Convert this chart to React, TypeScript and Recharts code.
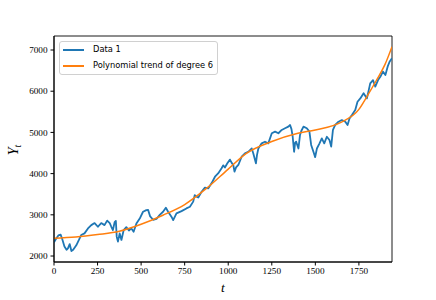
import { Label, Line, LineChart, ReferenceArea, XAxis, YAxis } from "recharts";

const dataT = [
  0, 12, 25, 38, 48, 60, 72, 80, 90, 100, 110, 128, 143, 156, 175, 195, 214, 233, 252, 271, 290, 305, 320, 329, 338, 348,
  355, 360, 367, 377, 387, 400, 415, 430, 444, 457, 473, 492, 511, 530, 540, 552, 569, 588, 607, 626, 642, 655, 674, 684,
  703, 732, 760, 780, 799, 808, 818, 828, 847, 866, 885, 904, 924, 942, 962, 971, 981, 995, 1010, 1020, 1029, 1036, 1045,
  1058, 1077, 1096, 1115, 1135, 1144, 1159, 1165, 1173, 1192, 1211, 1230, 1250, 1269, 1288, 1307, 1326, 1345, 1355, 1363,
  1370, 1378, 1384, 1390, 1403, 1412, 1420, 1432, 1451, 1466, 1476, 1489, 1499, 1509, 1524, 1537, 1551, 1566, 1581, 1591,
  1601, 1614, 1633, 1652, 1672, 1685, 1696, 1710, 1729, 1742, 1758, 1777, 1796, 1815, 1831, 1844, 1860, 1873, 1888, 1902,
  1915, 1926, 1940,
];
const dataY = [
  2330, 2420, 2500, 2520, 2400, 2230, 2150, 2185, 2290, 2120, 2150, 2260, 2390, 2510, 2550, 2670, 2750, 2800, 2710, 2800,
  2750, 2860, 2800, 2710, 2630, 2820, 2850, 2470, 2350, 2550, 2390, 2630, 2700, 2620, 2670, 2590, 2790, 2910, 3075, 3115,
  3120, 2960, 2880, 2900, 3000, 3075, 3170, 3075, 2955, 2870, 3035, 3090, 3155, 3195, 3320, 3480, 3440, 3420, 3560, 3660,
  3640, 3765, 3925, 4005, 4130, 4200, 4150, 4250, 4340, 4260, 4210, 4050, 4150, 4210, 4410, 4490, 4530, 4610, 4490, 4250,
  4450, 4610, 4735, 4775, 4735, 4980, 5020, 4980, 5060, 5100, 5140, 5180, 5080, 4895, 4530, 4750, 4775, 4610, 4935, 5040,
  5140, 5100, 5020, 4695, 4530, 4400, 4610, 4735, 4855, 4735, 4895, 4815, 4655, 5060, 5180, 5260, 5300, 5260, 5180, 5340,
  5420, 5545, 5745, 5825, 5950, 5825, 6190, 6270, 6110, 6270, 6350, 6475, 6395, 6595, 6715, 6800,
];

// degree 6 trend
const trendT = [0, 125, 250, 375, 500, 625, 750, 875, 1000, 1100, 1250, 1400, 1500, 1650, 1750, 1800, 1850, 1900, 1940];
const trendY = [2430, 2460, 2520, 2600, 2770, 2990, 3250, 3640, 4110, 4480, 4780, 4980, 5060, 5250, 5560, 5900, 6260, 6650, 7080];

const xTicks = [0, 250, 500, 750, 1000, 1250, 1500, 1750];
const yTicks = [2000, 3000, 4000, 5000, 6000, 7000];
const seriesNames = ["Data 1", "Polynomial trend of degree 6"];
const colors = ["#1f77b4", "#ff7f0e"];

const X_MAX = 1940;
const Y_MIN = 1855;
const Y_MAX = 7340;

const dataRows = dataT.map((t, i) => ({ t, value: dataY[i] }));
const trendRows = trendT.map((t, i) => ({ t, trend: trendY[i] }));

const tickStyle = { fill: "#000", fontSize: 9.2, fontFamily: "Liberation Serif" };

export default function App() {
  return (
    <div style={{ position: "absolute", left: 0, top: 0, width: 436, height: 300, background: "#fff" }}>
      <LineChart width={436} height={300} margin={{ top: 36, right: 44, bottom: 0, left: 0 }}>
        <XAxis
          dataKey="t"
          type="number"
          domain={[0, X_MAX]}
          allowDataOverflow
          ticks={xTicks}
          height={38}
          tick={tickStyle}
          tickSize={3.5}
          tickMargin={2}
          tickLine={{ stroke: "#000" }}
          axisLine={{ stroke: "#000" }}
        >
          <Label
            content={() => (
              <text x={223} y={292} textAnchor="middle" fontFamily="Liberation Serif" fontStyle="italic" fontSize={13.5}>
                t
              </text>
            )}
          />
        </XAxis>
        <YAxis
          type="number"
          domain={[Y_MIN, Y_MAX]}
          allowDataOverflow
          ticks={yTicks}
          width={54}
          tick={tickStyle}
          tickSize={3.5}
          tickMargin={3}
          tickLine={{ stroke: "#000" }}
          axisLine={{ stroke: "#000" }}
        >
          <Label
            content={() => (
              <text
                x={18}
                y={150}
                transform="rotate(-90 18 150)"
                textAnchor="middle"
                fontFamily="Liberation Serif"
                fontStyle="italic"
                fontSize={14}
              >
                Y<tspan fontSize={9.5} dy={3}>t</tspan>
              </text>
            )}
          />
        </YAxis>
        <ReferenceArea x1={0} x2={X_MAX} y1={Y_MIN} y2={Y_MAX} fill="none" stroke="#000" strokeWidth={0.9} />
        <Line
          data={dataRows}
          dataKey="value"
          name={seriesNames[0]}
          type="linear"
          stroke={colors[0]}
          strokeWidth={1.8}
          strokeLinejoin="round"
          dot={false}
          isAnimationActive={false}
        />
        <Line
          data={trendRows}
          dataKey="trend"
          name={seriesNames[1]}
          type="monotone"
          stroke={colors[1]}
          strokeWidth={1.5}
          dot={false}
          isAnimationActive={false}
        />
      </LineChart>
      <div
        style={{
          position: "absolute",
          left: 59,
          top: 41,
          width: 157,
          height: 32,
          border: "1px solid #d0d0d0",
          borderRadius: 3,
          background: "rgba(255,255,255,0.8)",
          fontFamily: "DejaVu Sans",
          fontSize: 8.3,
          color: "#000",
        }}
      >
        {seriesNames.map((name, i) => (
          <div key={name} style={{ position: "absolute", left: 3, top: 2 + i * 16, height: 11, display: "flex", alignItems: "center" }}>
            <span style={{ display: "inline-block", width: 21, height: 2, background: colors[i] }} />
            <span style={{ marginLeft: 9, lineHeight: "11px", whiteSpace: "nowrap" }}>{name}</span>
          </div>
        ))}
      </div>
    </div>
  );
}
